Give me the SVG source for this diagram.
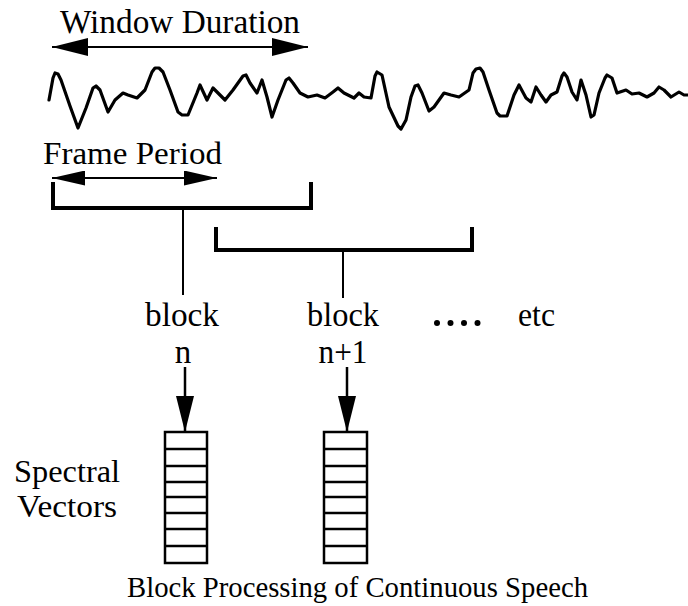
<svg xmlns="http://www.w3.org/2000/svg" width="688" height="606" viewBox="0 0 688 606">
<style>
text{font-family:"Liberation Serif","Times New Roman",serif;fill:#000}
.t{font-size:33px}
.l{stroke:#000;fill:none}
.br{stroke:#000;stroke-width:4;fill:none;stroke-linecap:square}
.vec{stroke:#000;stroke-width:2.5;fill:#fff}
.row{stroke:#000;stroke-width:2.5}
</style>
<defs>
<marker id="ah" viewBox="0 0 36 18" refX="36" refY="9" markerWidth="36" markerHeight="18" markerUnits="userSpaceOnUse" orient="auto-start-reverse">
<path d="M0,0 L36,9 L0,18 Z" fill="#000"/>
</marker>
<marker id="ahs" viewBox="0 0 33 15" refX="33" refY="7.5" markerWidth="33" markerHeight="15" markerUnits="userSpaceOnUse" orient="auto-start-reverse">
<path d="M0,0 L33,7.5 L0,15 Z" fill="#000"/>
</marker>
</defs>
<rect width="688" height="606" fill="#fff"/>

<g id="window-duration">
<text class="t" x="60" y="33" textLength="240" lengthAdjust="spacingAndGlyphs">Window Duration</text>
</g>

<g id="waveform">
<path class="l" stroke-width="3.2" stroke-linejoin="round" stroke-linecap="round" d="M49,100 L53,78 L55,73 L58,74 L61,80 L70,106 L78,128 L86,108 L93,88 L96,86 L100,90 L108,112 L115,100 L123,93 L128,95 L137,98 L145,90 L152,72 L155,68 L159,68 L163,72 L170,90 L178,112 L182,115 L188,115 L197,93 L200,85 L207,100 L213,88 L220,95 L225,100 L233,90 L243,76 L246,75 L250,83 L257,93 L262,80 L267,97 L272,117 L278,100 L286,80 L289,78 L293,83 L300,93 L308,97 L317,95 L325,98 L333,92 L338,88 L344,93 L354,98 L359,93 L364,97 L371,98 L375,76 L377,72 L382,75 L389,107 L398,126 L401,129 L406,120 L411,97 L415,86 L418,85 L422,93 L429,111 L434,107 L444,93 L451,95 L459,97 L469,90 L473,73 L476,69 L480,68 L483,72 L489,90 L497,113 L500,116 L507,116 L514,95 L519,85 L526,98 L531,102 L536,87 L541,95 L546,102 L551,95 L557,92 L562,76 L564,73 L567,77 L572,92 L577,100 L581,80 L586,95 L591,117 L594,115 L599,93 L605,78 L607,75 L612,78 L617,93 L626,90 L632,94 L639,93 L647,97 L654,93 L659,87 L664,90 L671,97 L679,92 L684,95 L688,95"/>
</g>

<g id="frame-period">
<text class="t" x="43" y="164" textLength="179" lengthAdjust="spacingAndGlyphs" style="font-size:31px">Frame Period</text>
</g>

<g id="block-n">
<text class="t" x="182" y="326" text-anchor="middle" textLength="74" lengthAdjust="spacingAndGlyphs">block</text>
<text class="t" x="183" y="363" text-anchor="middle">n</text>
</g>

<g id="block-n1">
<text class="t" x="343" y="326" text-anchor="middle" textLength="72" lengthAdjust="spacingAndGlyphs">block</text>
<text class="t" x="343" y="363" text-anchor="middle" textLength="49" lengthAdjust="spacingAndGlyphs">n+1</text>
</g>

<g id="etc">
<circle cx="437" cy="323" r="3"/>
<circle cx="450.5" cy="323" r="3"/>
<circle cx="464" cy="323" r="3"/>
<circle cx="477.5" cy="323" r="3"/>
<text class="t" x="518" y="326" textLength="37" lengthAdjust="spacingAndGlyphs">etc</text>
</g>

<g id="vectors-n">
<rect class="vec" x="165" y="432" width="42" height="131"/>
<path class="row" d="M165,449H207M165,466H207M165,482H207M165,497H207M165,513H207M165,529H207M165,546H207"/>
</g>

<g id="vectors-n1">
<rect class="vec" x="324" y="432" width="43" height="131"/>
<path class="row" d="M324,449H367M324,466H367M324,482H367M324,497H367M324,513H367M324,529H367M324,546H367"/>
</g>

<g id="spectral-label">
<text class="t" x="67" y="482" text-anchor="middle" textLength="106" lengthAdjust="spacingAndGlyphs" style="font-size:32px">Spectral</text>
<text class="t" x="67" y="517" text-anchor="middle" textLength="100" lengthAdjust="spacingAndGlyphs" style="font-size:32px">Vectors</text>
</g>

<g id="caption">
<text class="t" x="127" y="597" textLength="461" lengthAdjust="spacingAndGlyphs" style="font-size:29px">Block Processing of Continuous Speech</text>
</g>

<g id="connectors">
<line class="l" stroke-width="2" x1="52" y1="47" x2="308" y2="47" marker-start="url(#ah)" marker-end="url(#ah)"/>
<line class="l" stroke-width="2" x1="52" y1="178" x2="217" y2="178" marker-start="url(#ahs)" marker-end="url(#ahs)"/>
<path class="br" d="M53,184 V208 H311 V184"/>
<line class="l" stroke-width="2" x1="183" y1="208" x2="183" y2="295"/>
<path class="br" d="M216,229 V250 H472 V229"/>
<line class="l" stroke-width="2" x1="343" y1="250" x2="343" y2="298"/>
<line class="l" stroke-width="2.5" x1="185" y1="367" x2="185" y2="432" marker-end="url(#ah)"/>
<line class="l" stroke-width="2.5" x1="347" y1="367" x2="347" y2="432" marker-end="url(#ah)"/>
</g>
</svg>
